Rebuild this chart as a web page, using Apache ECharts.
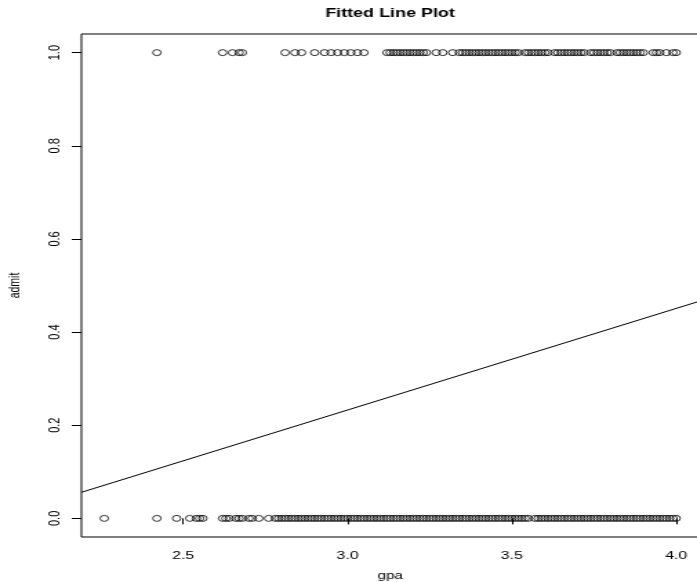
<!DOCTYPE html>
<html>
<head>
<meta charset="utf-8">
<script src="https://cdn.jsdelivr.net/npm/echarts@6/dist/echarts.min.js"></script>
<style>
  html, body { margin: 0; padding: 0; background: #fff; }
  #wrap { width: 697px; height: 582px; overflow: hidden; }
  /* the plot is laid out on a narrower canvas and widened, like the wide R device it mimics */
  #chart { width: 505px; height: 582px; transform: scaleX(1.3802); transform-origin: 0 0; }
</style>
</head>
<body>
<div id="wrap"><div id="chart"></div></div>
<script>
// gpa of admitted applicants (admit = 1)
const admittedGpa = [
  2.42, 2.62, 2.65, 2.67, 2.68, 2.81, 2.84, 2.86,
  2.90, 2.93, 2.95, 2.97, 2.99, 3.01, 3.03, 3.05,
  3.12, 3.13, 3.14, 3.15, 3.16, 3.17, 3.18, 3.19, 3.20, 3.21, 3.22, 3.23, 3.24,
  3.27, 3.29, 3.32,
  3.34, 3.35, 3.36, 3.37, 3.38, 3.39, 3.40, 3.41, 3.42, 3.43, 3.44, 3.45, 3.46,
  3.47, 3.48, 3.49, 3.50, 3.51, 3.52,
  3.54, 3.55, 3.56, 3.57, 3.58, 3.59, 3.60, 3.61,
  3.63, 3.64, 3.65, 3.66, 3.67, 3.68, 3.69, 3.70, 3.71, 3.72,
  3.74, 3.75, 3.76, 3.77, 3.78, 3.79, 3.80,
  3.82, 3.83, 3.84, 3.85, 3.86, 3.87, 3.88, 3.89, 3.90,
  3.93, 3.94, 3.95, 3.97, 3.99, 4.00
];

// gpa of rejected applicants (admit = 0)
const rejectedGpa = [
  2.26, 2.42, 2.48, 2.52, 2.54, 2.55, 2.56, 2.62, 2.63, 2.64,
  2.66, 2.67, 2.68, 2.70, 2.71, 2.73, 2.76, 2.78, 2.79, 2.80, 2.81, 2.82,
  2.83, 2.84, 2.85, 2.86, 2.87, 2.88, 2.89, 2.90, 2.91, 2.92, 2.93, 2.94,
  2.95, 2.96, 2.97, 2.98, 2.99, 3.00, 3.01, 3.02, 3.03, 3.04, 3.05, 3.06,
  3.07, 3.08, 3.09, 3.10, 3.11, 3.12, 3.13, 3.14, 3.15, 3.16, 3.17, 3.18,
  3.19, 3.20, 3.21, 3.22, 3.23, 3.24, 3.25, 3.26, 3.27, 3.28, 3.29, 3.30,
  3.31, 3.32, 3.33, 3.34, 3.35, 3.36, 3.37, 3.38, 3.39, 3.40, 3.41, 3.42,
  3.43, 3.44, 3.45, 3.46, 3.47, 3.48, 3.49, 3.50, 3.51, 3.52, 3.53, 3.54, 3.55,
  3.57, 3.58, 3.59, 3.60, 3.61, 3.62, 3.63, 3.64, 3.65, 3.66, 3.67, 3.68,
  3.69, 3.70, 3.71, 3.72, 3.73, 3.74, 3.75, 3.76, 3.77, 3.78, 3.79, 3.80,
  3.81, 3.82, 3.83, 3.84, 3.85, 3.86, 3.87, 3.88, 3.89, 3.90, 3.91, 3.92,
  3.93, 3.94, 3.95, 3.96, 3.97, 3.98, 3.99, 4.00
];

// least-squares line, evaluated at the two ends of the gpa axis
const fitGpa = [2.1904, 4.0696];
const fitAdmit = [0.056, 0.466];

// axis ranges (R-style 4% padding) and tick labels
const gpaRange = [2.1904, 4.0696];
const admitRange = [-0.04, 1.04];
const gpaTicks = [2.5, 3.0, 3.5, 4.0];
const admitTicks = [0.0, 0.2, 0.4, 0.6, 0.8, 1.0];

const FONT = '"Liberation Sans", Arial, Helvetica, sans-serif';

const chart = echarts.init(document.getElementById('chart'), null, { renderer: 'canvas' });

const pointStyle = {
  color: 'rgba(0,0,0,0)',
  borderColor: '#000',
  borderWidth: 1
};

chart.setOption({
  animation: false,
  backgroundColor: '#fff',
  graphic: [{
    type: 'text',
    x: 282.6,
    y: 13,
    style: {
      text: 'Fitted Line Plot',
      font: 'bold 13px ' + FONT,
      fill: '#000',
      align: 'center',
      verticalAlign: 'middle'
    }
  }],
  grid: {
    left: 59,
    right: -1.5,
    top: 34,
    bottom: 45,
    show: true,
    borderColor: '#000',
    borderWidth: 1,
    backgroundColor: 'rgba(0,0,0,0)',
    outerBoundsMode: 'none'
  },
  xAxis: {
    type: 'value',
    min: gpaRange[0],
    max: gpaRange[1],
    splitLine: { show: false },
    axisLine: { show: false },
    axisTick: {
      show: true,
      customValues: gpaTicks,
      length: 6,
      lineStyle: { color: '#000', width: 1 }
    },
    axisLabel: {
      show: true,
      customValues: gpaTicks,
      formatter: v => v.toFixed(1),
      margin: 13,
      fontSize: 11.5,
      fontFamily: FONT,
      color: '#000'
    },
    name: 'gpa',
    nameLocation: 'middle',
    nameGap: 33,
    nameTextStyle: { fontSize: 11, fontFamily: FONT, color: '#000' }
  },
  yAxis: {
    type: 'value',
    min: admitRange[0],
    max: admitRange[1],
    splitLine: { show: false },
    axisLine: { show: false },
    axisTick: {
      show: true,
      customValues: admitTicks,
      length: 7,
      lineStyle: { color: '#000', width: 1 }
    },
    axisLabel: {
      show: true,
      customValues: admitTicks,
      formatter: v => v.toFixed(1),
      rotate: 90,
      margin: 14,
      fontSize: 11,
      fontFamily: FONT,
      color: '#000'
    },
    name: 'admit',
    nameLocation: 'middle',
    nameGap: 42,
    nameTextStyle: { fontSize: 10.5, fontFamily: FONT, color: '#000' }
  },
  series: [
    {
      name: 'admitted',
      type: 'scatter',
      symbol: 'circle',
      symbolSize: 6,
      itemStyle: pointStyle,
      silent: true,
      data: admittedGpa.map(g => [g, 1])
    },
    {
      name: 'rejected',
      type: 'scatter',
      symbol: 'circle',
      symbolSize: 6,
      itemStyle: pointStyle,
      silent: true,
      data: rejectedGpa.map(g => [g, 0])
    },
    {
      name: 'fit',
      type: 'line',
      showSymbol: false,
      silent: true,
      lineStyle: { color: '#000', width: 1 },
      data: fitGpa.map((g, i) => [g, fitAdmit[i]])
    }
  ]
});
</script>
</body>
</html>
